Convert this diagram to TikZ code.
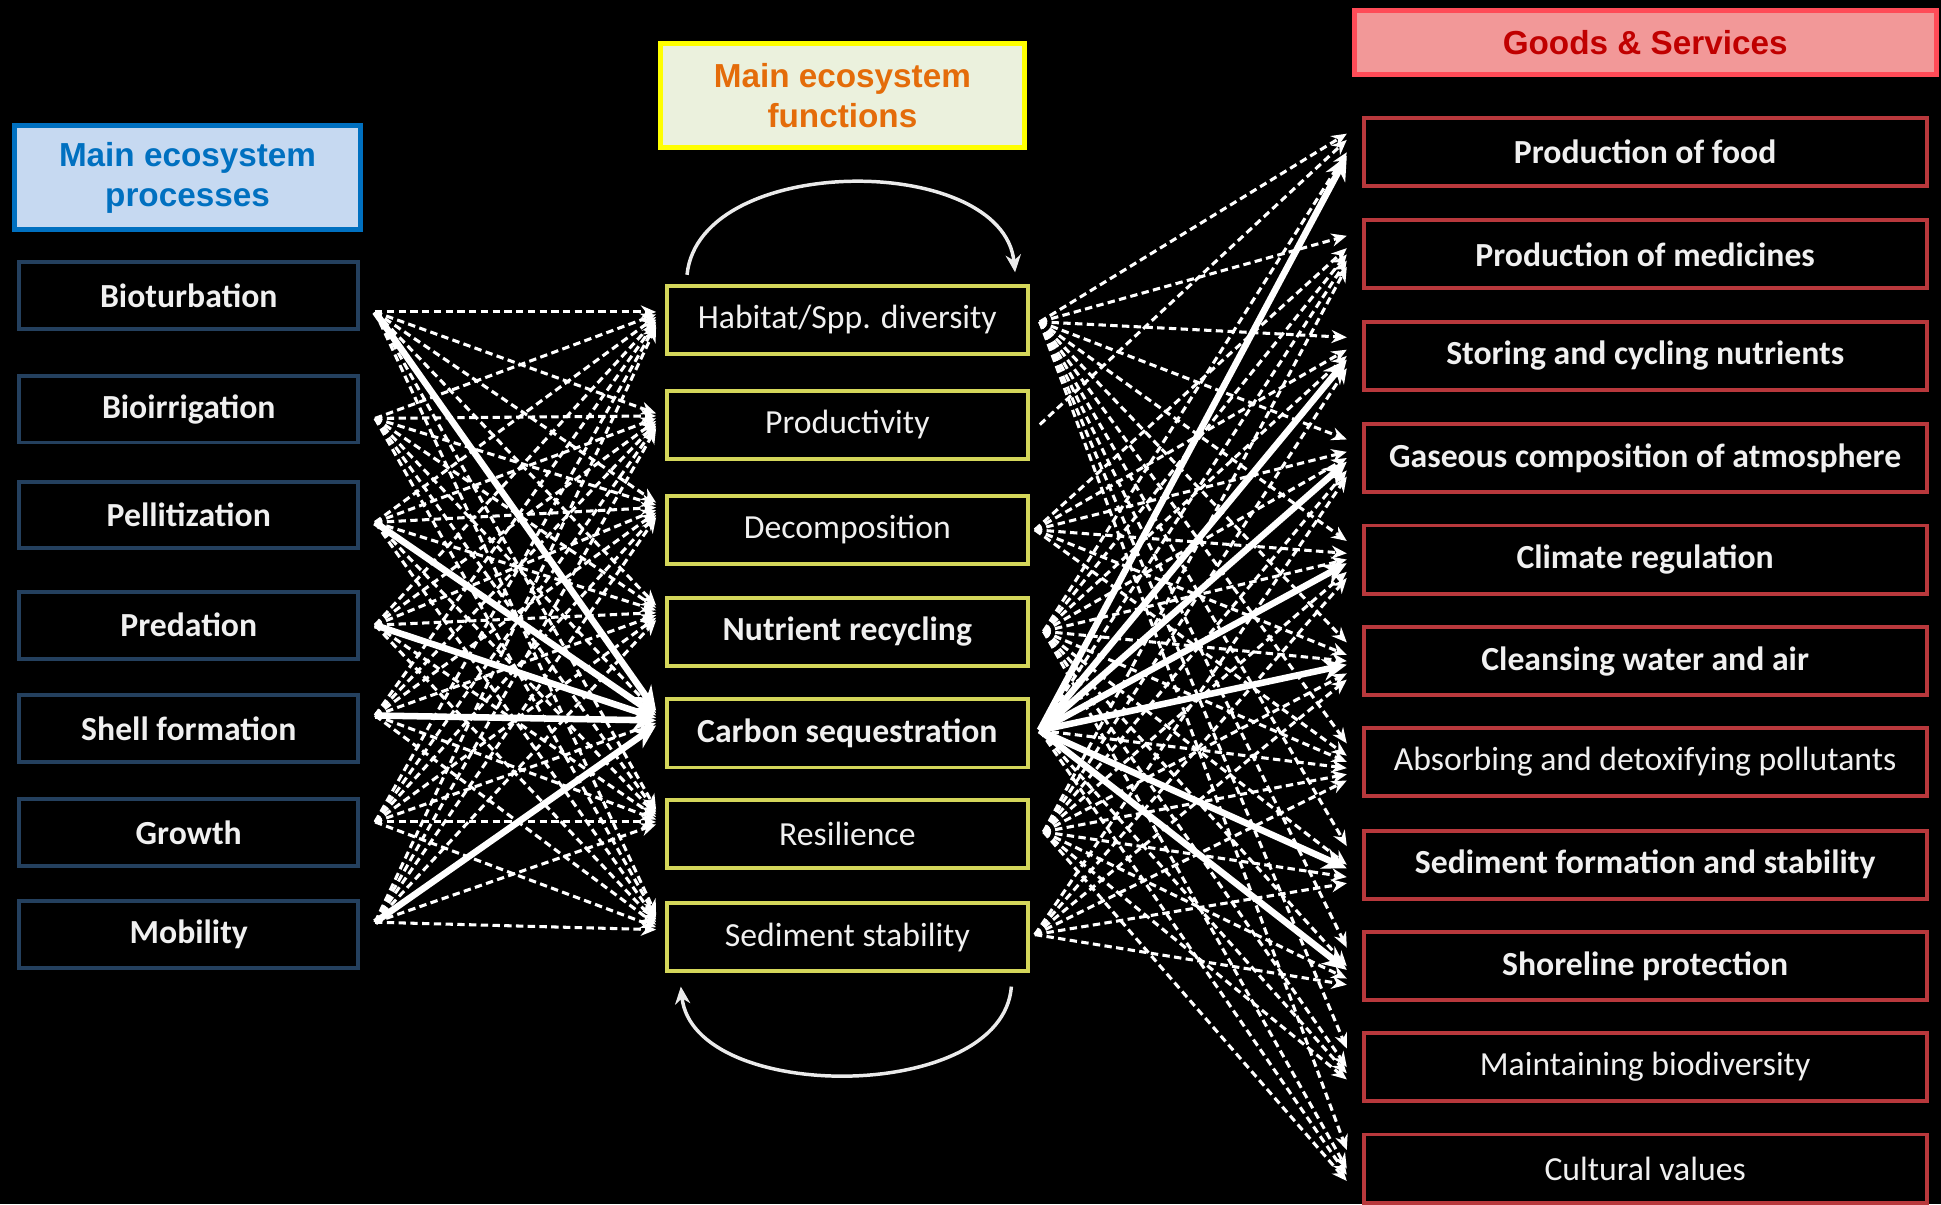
\documentclass[tikz,border=0pt]{standalone}
\usepackage{fontspec}
\setmainfont{Carlito}
\newfontfamily\hdrfont{Liberation Sans}
\usetikzlibrary{arrows.meta,calc}
\definecolor{blueborder}{HTML}{0070C0}
\definecolor{bluefill}{HTML}{C6D9F1}
\definecolor{yelborder}{HTML}{FFFF00}
\definecolor{yelfill}{HTML}{EBF1DD}
\definecolor{orangetext}{HTML}{E46C0A}
\definecolor{redborder}{HTML}{FF4B57}
\definecolor{redfill}{HTML}{F29898}
\definecolor{redtext}{HTML}{C00000}
\definecolor{procborder}{HTML}{24405E}
\definecolor{funcborder}{HTML}{D4D65A}
\definecolor{goodborder}{HTML}{B8383C}
\definecolor{boxtext}{HTML}{F0F0F0}
\begin{document}
\begin{tikzpicture}[x=0.02cm,y=-0.02cm,
  hdr/.style={line width=2.3pt, inner sep=0pt, align=center,
    font=\hdrfont\bfseries\fontsize{15.3}{18.5}\selectfont},
  basebox/.style={line width=1.8pt, fill=black, inner sep=0pt, text=boxtext,
    font=\fontsize{15.5}{18}\selectfont\bfseries},
  procbox/.style={basebox, draw=procborder, minimum width=5.48cm, minimum height=1.08cm},
  funcbox/.style={basebox, draw=funcborder, minimum width=5.84cm, minimum height=1.1cm},
  goodbox/.style={basebox, draw=goodborder, minimum width=9.1cm, minimum height=1.1cm},
  lite/.style={font=\fontsize{15.5}{18}\selectfont},
  dline/.style={draw=white, line width=1.4pt, dash pattern=on 3.4pt off 2pt,
    -{Stealth[length=7pt,width=6pt]}},
  tline/.style={draw=white, line width=3pt, -{Stealth[length=11pt,width=10pt]}},
  loop/.style={draw=white!92!black, line width=1.6pt, -{Stealth[length=8pt,width=7pt]}}
]
\fill[black] (0,0) rectangle (1568,973);
\useasboundingbox (0,0) rectangle (1568,973);

% headers
\node[hdr, draw=blueborder, fill=bluefill, text=blueborder,
  minimum width=5.6cm, minimum height=1.68cm] (hproc) at (151.5,143.5) {Main ecosystem\\processes};
\node[hdr, draw=yelborder, fill=yelfill, text=orangetext,
  minimum width=5.88cm, minimum height=1.68cm] (hfunc) at (680.5,77.5) {Main ecosystem\\functions};
\node[hdr, draw=redborder, fill=redfill, text=redtext,
  minimum width=9.4cm, minimum height=1.04cm] (hgood) at (1329,34.5) {Goods \& Services};

% processes
\node[procbox] (p1) at (152.5,239) {Bioturbation};
\node[procbox] (p2) at (152.5,330.5) {Bioirrigation};
\node[procbox] (p3) at (152.5,416) {Pellitization};
\node[procbox] (p4) at (152.5,505) {Predation};
\node[procbox] (p5) at (152.5,588.5) {Shell formation};
\node[procbox] (p6) at (152.5,672.5) {Growth};
\node[procbox] (p7) at (152.5,755) {Mobility};

% functions
\node[funcbox, lite] (m1) at (684.5,258.5) {Habitat/Spp. diversity};
\node[funcbox, lite] (m2) at (684.5,343) {Productivity};
\node[funcbox, lite] (m3) at (684.5,428) {Decomposition};
\node[funcbox] (m4) at (684.5,510.5) {Nutrient recycling};
\node[funcbox] (m5) at (684.5,592.5) {Carbon sequestration};
\node[funcbox, lite] (m6) at (684.5,674) {Resilience};
\node[funcbox, lite] (m7) at (684.5,757) {Sediment stability};

% goods
\node[goodbox] (g1) at (1329,123) {Production of food};
\node[goodbox] (g2) at (1329,205.5) {Production of medicines};
\node[goodbox] (g3) at (1329,287.5) {Storing and cycling nutrients};
\node[goodbox] (g4) at (1329,370) {Gaseous composition of atmosphere};
\node[goodbox] (g5) at (1329,452) {Climate regulation};
\node[goodbox] (g6) at (1329,534) {Cleansing water and air};
\node[goodbox, lite] (g7) at (1329,615.5) {Absorbing and detoxifying pollutants};
\node[goodbox] (g8) at (1329,698.5) {Sediment formation and stability};
\node[goodbox] (g9) at (1329,780.5) {Shoreline protection};
\node[goodbox, lite] (g10) at (1329,862) {Maintaining biodiversity};
\node[goodbox, lite] (g11) at (1329,944) {Cultural values};

% connector end points
\foreach \i/\y in {1/252,2/338,3/422,4/505,5/578,6/664,7/745}
  \coordinate (ps\i) at (303,\y);
\foreach \j/\y in {1/258,2/340,3/412,4/495,5/580,6/660,7/745}
  \coordinate (mi\j) at (530,\y);
\foreach \j/\x/\y in {1/840/260,2/840/343,3/836/428,4/843/510,5/840/590,6/843/672,7/836/755}
  \coordinate (mo\j) at (\x,\y);
\foreach \g in {1,...,11}
  \coordinate (gi\g) at ($(g\g.west)+(-12,0)$);

% processes -> functions
\foreach \i in {1,...,7}{
  \foreach \j in {1,...,7}{
    \pgfmathtruncatemacro\isthick{and(\j==5, and(\i!=2,\i!=6))}
    \ifnum\isthick=0
      \draw[dline] (ps\i) -- ($(mi\j)+(0,{(\i-4)*2})$);
    \fi
  }
}
\foreach \i in {1,3,4,5,7}
  \draw[tline] (ps\i) -- ($(mi5)+(0,{(\i-4)*2})$);

% functions -> goods
\foreach \j/\g in {1/1,1/2,1/3,1/4,1/5,1/6,1/7,1/8,1/9,1/10,1/11,
  2/1,3/2,3/3,3/4,3/5,3/6,3/7,
  4/1,4/2,4/3,4/4,4/5,4/6,4/7,4/8,4/9,4/10,4/11,
  5/2,5/7,5/10,5/11,
  6/2,6/3,6/4,6/5,6/6,6/7,6/8,6/9,6/10,6/11,
  7/4,7/5,7/6,7/7,7/8,7/9}
  \draw[dline] (mo\j) -- ($(gi\g)+(0,{(\j-4)*5})$);
\foreach \g in {1,3,4,5,6,8,9}
  \draw[tline] (mo5) -- ($(gi\g)+(0,3)$);

% feedback loops
\coordinate (ta) at (555,222);
\coordinate (tb) at (820,220);
\coordinate (ba) at (817,797);
\coordinate (bb) at (550,797);
\draw[loop] (ta) .. controls (565,123) and (810,123) .. (tb);
\draw[loop] (ba) .. controls (810,892) and (560,892) .. (bb);
\end{tikzpicture}
\end{document}
